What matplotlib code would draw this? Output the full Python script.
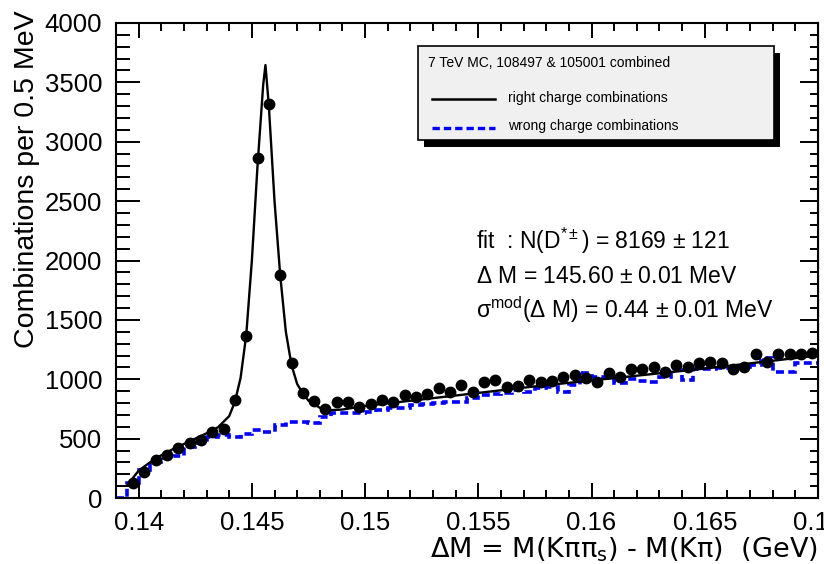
import numpy as np
import matplotlib
matplotlib.use("Agg")
import matplotlib.pyplot as plt
from matplotlib.ticker import MultipleLocator, FuncFormatter
from matplotlib.patches import Rectangle
from matplotlib.lines import Line2D

plt.rcParams['font.family'] = ['Liberation Sans', 'DejaVu Sans']
plt.rcParams['mathtext.fontset'] = 'custom'
plt.rcParams['mathtext.rm'] = 'Liberation Sans'
plt.rcParams['mathtext.it'] = 'Liberation Sans:italic'
plt.rcParams['mathtext.default'] = 'regular'

# 0.5 MeV bins from 139 to 170 MeV
bin_edges = np.linspace(0.139, 0.170, 63)
bin_centers = 0.5 * (bin_edges[:-1] + bin_edges[1:])

# right charge combinations (points), bins 1..61
right_counts = [130, 221, 320, 362, 418, 460, 488, 558, 578, 828,
                1364, 2861, 3318, 1878, 1134, 882, 815, 750, 805, 805,
                770, 790, 825, 811, 867, 853, 876, 924, 895, 952,
                895, 979, 994, 937, 943, 994, 979, 988, 1016, 1036,
                1008, 979, 1055, 1022, 1084, 1084, 1100, 1064, 1120, 1100,
                1139, 1148, 1134, 1084, 1106, 1213, 1148, 1213, 1213, 1213,
                1224]

# wrong charge combinations (dashed histogram), bins 0..61
wrong_counts = [0, 124, 236, 300, 337, 350, 430, 460, 516, 530,
                516, 540, 575, 560, 615, 640, 643, 630, 685, 713,
                713, 713, 727, 741, 755, 760, 783, 790, 797, 811,
                811, 840, 867, 875, 882, 909, 890, 924, 937, 895,
                952, 1050, 1022, 1010, 966, 1000, 985, 979, 1022, 1078,
                994, 1084, 1090, 1095, 1100, 1106, 1120, 1176, 1064, 1064,
                1134, 1134]

# fitted signal + background curve
fit_x = [0.1395, 0.1400, 0.1405, 0.1410, 0.1415, 0.1420, 0.1425, 0.1430,
         0.1435, 0.1440, 0.14425, 0.1445, 0.14475, 0.1450, 0.14525, 0.1455,
         0.1456, 0.14575, 0.1460, 0.14625, 0.1465, 0.14675, 0.1470, 0.14725,
         0.1475, 0.1480, 0.1485, 0.1490, 0.1500, 0.1525, 0.1550, 0.1575,
         0.1600, 0.1625, 0.1650, 0.1675, 0.1700]
fit_y = [110, 230, 300, 360, 410, 455, 500, 545,
         595, 690, 810, 1010, 1370, 2000, 2800, 3480,
         3646, 3300, 2500, 1880, 1400, 1120, 960, 880,
         820, 760, 740, 745, 775, 830, 885, 940,
         990, 1040, 1090, 1145, 1200]

fig = plt.figure(figsize=(8.24, 5.64), dpi=100)
ax = fig.add_axes([116 / 824, 66 / 564, 702 / 824, 475 / 564])

ax.stairs(wrong_counts, bin_edges, baseline=None, color='blue', lw=2.6,
          linestyle=(0, (2.2, 1.2)))
ax.plot(fit_x, fit_y, color='black', lw=1.7)
ax.plot(bin_centers[1:], right_counts, 'o', color='black', ms=7.5)

ax.set_xlim(0.139, 0.170)
ax.set_ylim(0, 4000)

ax.xaxis.set_major_locator(MultipleLocator(0.005))
ax.xaxis.set_minor_locator(MultipleLocator(0.001))
ax.yaxis.set_major_locator(MultipleLocator(500))
ax.yaxis.set_minor_locator(MultipleLocator(100))
ax.xaxis.set_major_formatter(FuncFormatter(lambda v, p: '%g' % round(v, 4)))

for s in ax.spines.values():
    s.set_linewidth(1.5)
ax.tick_params(which='both', direction='in', top=True, width=1.4,
               labelsize=18.5)
ax.tick_params(axis='x', which='major', length=11, pad=9)
ax.tick_params(axis='x', which='minor', length=5.5)
ax.tick_params(axis='y', which='major', length=17, pad=10)
ax.tick_params(axis='y', which='minor', length=10)

# right-hand ticks are shorter than the left ones
sec = ax.secondary_yaxis('right')
sec.yaxis.set_major_locator(MultipleLocator(500))
sec.yaxis.set_minor_locator(MultipleLocator(100))
sec.tick_params(which='both', direction='in', width=1.4, labelright=False)
sec.tick_params(which='major', length=13)
sec.tick_params(which='minor', length=6)

fig.text(27 / 824, 1 - 10 / 564, 'Combinations per 0.5 MeV', rotation=90,
         ha='center', va='top', fontsize=20.5)
fig.text(818 / 824, 1 - 550 / 564,
         r'ΔM = M(Kππ$_{s}$) - M(Kπ)  (GeV)', family='DejaVu Sans',
         ha='right', va='center', fontsize=19.5)

# fit results
ax.text(0.513, 0.541, r'fit  : N(D$^{*\pm}$) = 8169 $\pm$ 121',
        transform=ax.transAxes, fontsize=16.5, va='center')
ax.text(0.513, 0.466, r'$\Delta$ M = 145.60 $\pm$ 0.01 MeV',
        transform=ax.transAxes, fontsize=16.5, va='center')
ax.text(0.513, 0.396, r'$\sigma^{mod}$($\Delta$ M) = 0.44 $\pm$ 0.01 MeV',
        transform=ax.transAxes, fontsize=16.5, va='center')

# legend box with solid shadow
W, H = 824, 564
bx0, by0, bx1, by1 = 418, 46, 774, 140
fig.patches.append(Rectangle(((bx0 + 6) / W, 1 - (by1 + 7) / H),
                             (bx1 - bx0) / W, (by1 - by0) / H,
                             transform=fig.transFigure, facecolor='black',
                             edgecolor='none', zorder=5))
fig.patches.append(Rectangle((bx0 / W, 1 - by1 / H),
                             (bx1 - bx0) / W, (by1 - by0) / H,
                             transform=fig.transFigure, facecolor='#f0f0f0',
                             edgecolor='black', lw=1.2, zorder=6))
fig.text(428 / W, 1 - 63 / H, '7 TeV MC, 108497 & 105001 combined',
         fontsize=10, va='center', zorder=7)
fig.lines.append(Line2D([432 / W, 495 / W], [1 - 99 / H, 1 - 99 / H],
                        transform=fig.transFigure, color='black', lw=1.8,
                        zorder=7))
fig.text(508 / W, 1 - 98 / H, 'right charge combinations',
         fontsize=10, va='center', zorder=7)
fig.lines.append(Line2D([432 / W, 495 / W], [1 - 128 / H, 1 - 128 / H],
                        transform=fig.transFigure, color='blue', lw=2.4,
                        linestyle=(0, (2.2, 1.2)), zorder=7))
fig.text(508 / W, 1 - 126 / H, 'wrong charge combinations',
         fontsize=10, va='center', zorder=7)

fig.savefig('out.png', dpi=100)
